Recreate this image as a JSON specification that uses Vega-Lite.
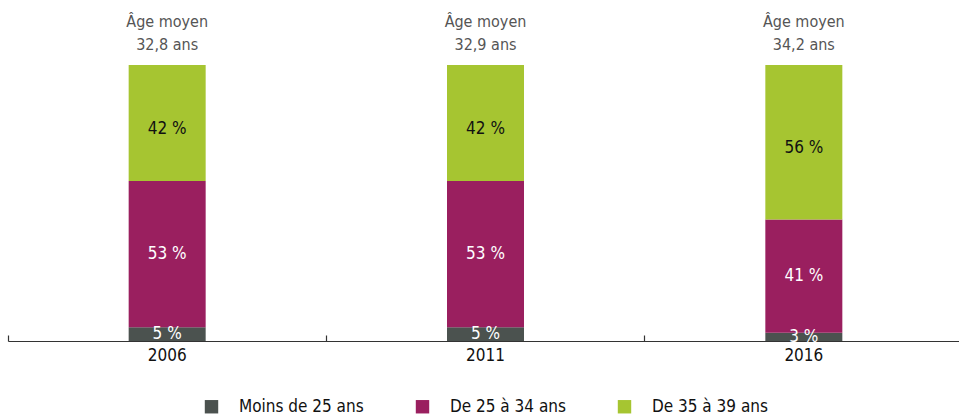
{
  "$schema": "https://vega.github.io/schema/vega-lite/v6.json",
  "width": 955,
  "height": 276,
  "autosize": {"type": "none"},
  "padding": {"left": 8, "top": 65, "right": 0, "bottom": 74},
  "background": "white",
  "config": {
    "view": {"stroke": null},
    "font": "DejaVu Sans Condensed, sans-serif"
  },
  "layer": [
    {
      "data": {
        "values": [
          {"year": "2006", "cat": "Moins de 25 ans", "k": 1, "pct": 5, "label": "5 %"},
          {"year": "2006", "cat": "De 25 à 34 ans", "k": 2, "pct": 53, "label": "53 %"},
          {"year": "2006", "cat": "De 35 à 39 ans", "k": 3, "pct": 42, "label": "42 %"},
          {"year": "2011", "cat": "Moins de 25 ans", "k": 1, "pct": 5, "label": "5 %"},
          {"year": "2011", "cat": "De 25 à 34 ans", "k": 2, "pct": 53, "label": "53 %"},
          {"year": "2011", "cat": "De 35 à 39 ans", "k": 3, "pct": 42, "label": "42 %"},
          {"year": "2016", "cat": "Moins de 25 ans", "k": 1, "pct": 3, "label": "3 %"},
          {"year": "2016", "cat": "De 25 à 34 ans", "k": 2, "pct": 41, "label": "41 %"},
          {"year": "2016", "cat": "De 35 à 39 ans", "k": 3, "pct": 56, "label": "56 %"}
        ]
      },
      "transform": [
        {"stack": "pct", "groupby": ["year"], "sort": [{"field": "k"}], "as": ["y0", "y1"]},
        {"calculate": "(datum.y0 + datum.y1) / 2", "as": "mid"}
      ],
      "layer": [
        {
          "mark": {"type": "bar", "width": 77},
          "encoding": {
            "x": {
              "field": "year", "type": "nominal",
              "scale": {"paddingInner": 0, "paddingOuter": 0},
              "axis": {
                "title": null, "labelAngle": 0, "bandPosition": 0,
                "domainColor": "#333", "domainWidth": 1.2,
                "tickColor": "#333", "tickSize": -6, "tickWidth": 1.2,
                "labelFontSize": 17, "labelColor": "#111", "labelPadding": 12
              }
            },
            "y": {"field": "y0", "type": "quantitative", "scale": {"domain": [0, 100], "nice": false}, "axis": null},
            "y2": {"field": "y1"},
            "color": {
              "field": "cat", "type": "nominal",
              "scale": {
                "domain": ["Moins de 25 ans", "De 25 à 34 ans", "De 35 à 39 ans"],
                "range": ["#4b524f", "#9a1f5f", "#a6c531"]
              },
              "legend": {
                "title": null, "orient": "none", "direction": "horizontal",
                "legendX": 195, "legendY": 333,
                "symbolType": "square", "symbolSize": 180, "symbolStrokeWidth": 0,
                "labelFontSize": 17, "labelColor": "#111", "labelOffset": 19,
                "columnPadding": 50
              }
            }
          }
        },
        {
          "transform": [{"filter": "datum.k != 3"}],
          "mark": {"type": "text", "fontSize": 17, "baseline": "middle", "color": "white"},
          "encoding": {
            "x": {"field": "year", "type": "nominal"},
            "y": {"field": "mid", "type": "quantitative"},
            "text": {"field": "label"}
          }
        },
        {
          "transform": [{"filter": "datum.k == 3"}],
          "mark": {"type": "text", "fontSize": 17, "baseline": "middle", "color": "#111", "dy": 6},
          "encoding": {
            "x": {"field": "year", "type": "nominal"},
            "y": {"field": "mid", "type": "quantitative"},
            "text": {"field": "label"}
          }
        }
      ]
    },
    {
      "data": {
        "values": [
          {"year": "2006", "txt": "Âge moyen\n32,8 ans"},
          {"year": "2011", "txt": "Âge moyen\n32,9 ans"},
          {"year": "2016", "txt": "Âge moyen\n34,2 ans"}
        ]
      },
      "mark": {"type": "text", "fontSize": 16, "lineBreak": "\n", "lineHeight": 23, "baseline": "middle", "dy": -43, "color": "#555"},
      "encoding": {
        "x": {"field": "year", "type": "nominal"},
        "y": {"datum": 100, "type": "quantitative"},
        "text": {"field": "txt"}
      }
    }
  ]
}
